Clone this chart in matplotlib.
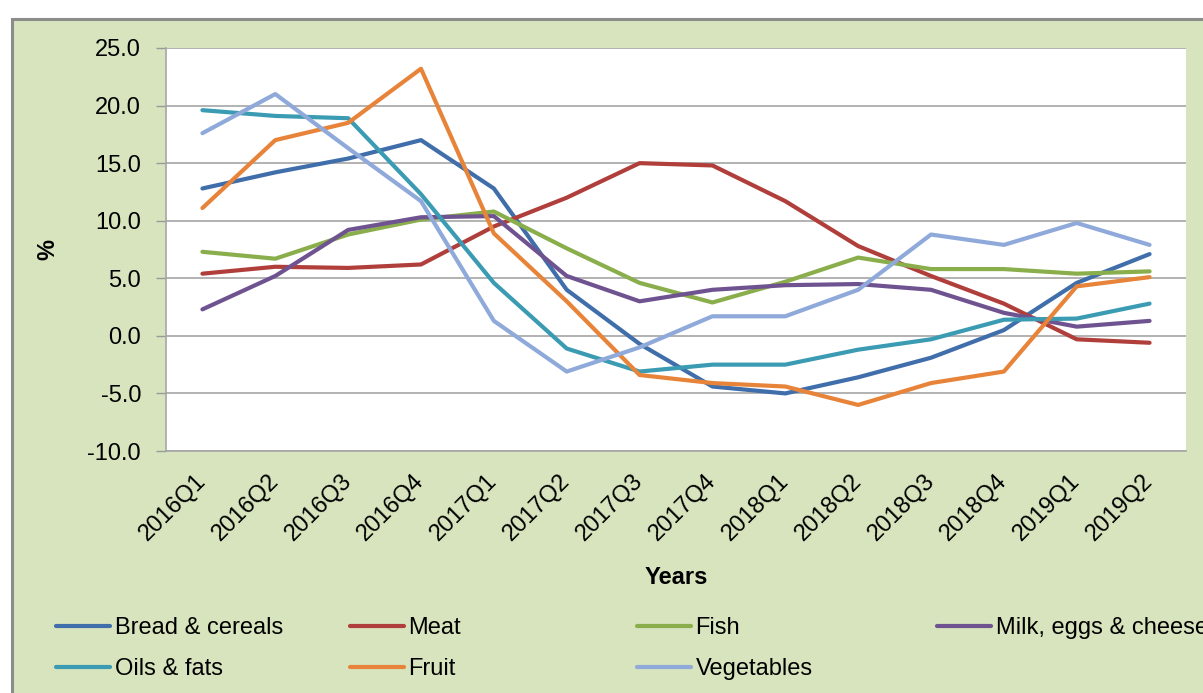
import matplotlib.pyplot as plt
from matplotlib.patches import Rectangle
import numpy as np

# quarterly food price inflation, %
quarters = ["2016Q1", "2016Q2", "2016Q3", "2016Q4",
            "2017Q1", "2017Q2", "2017Q3", "2017Q4",
            "2018Q1", "2018Q2", "2018Q3", "2018Q4",
            "2019Q1", "2019Q2"]

bread = [12.8, 14.2, 15.4, 17.0, 12.8, 4.0, -0.7, -4.4, -5.0, -3.6, -1.9, 0.5, 4.6, 7.1]
meat = [5.4, 6.0, 5.9, 6.2, 9.5, 12.0, 15.0, 14.8, 11.7, 7.8, 5.2, 2.8, -0.3, -0.6]
fish = [7.3, 6.7, 8.8, 10.1, 10.8, 7.6, 4.6, 2.9, 4.7, 6.8, 5.8, 5.8, 5.4, 5.6]
milk = [2.3, 5.2, 9.2, 10.3, 10.4, 5.2, 3.0, 4.0, 4.4, 4.5, 4.0, 2.0, 0.8, 1.3]
oils = [19.6, 19.1, 18.9, 12.3, 4.6, -1.1, -3.1, -2.5, -2.5, -1.2, -0.3, 1.4, 1.5, 2.8]
fruit = [11.1, 17.0, 18.5, 23.2, 8.9, 3.0, -3.4, -4.1, -4.4, -6.0, -4.1, -3.1, 4.3, 5.1]
vegetables = [17.6, 21.0, 16.3, 11.7, 1.3, -3.1, -1.0, 1.7, 1.7, 4.0, 8.8, 7.9, 9.8, 7.9]

series = [
    ("Bread & cereals", bread, "#3F6EAA"),
    ("Meat", meat, "#B03F3C"),
    ("Fish", fish, "#8AAE4B"),
    ("Milk, eggs & cheese", milk, "#6F5391"),
    ("Oils & fats", oils, "#3A9BB3"),
    ("Fruit", fruit, "#E7843A"),
    ("Vegetables", vegetables, "#8FAADA"),
]

W, H = 1203, 693
plt.rcParams['font.family'] = ['Liberation Sans', 'DejaVu Sans']
plt.rcParams['font.size'] = 17

fig = plt.figure(figsize=(W / 100, H / 100), dpi=100)
fig.patch.set_facecolor("white")
# green chart area with grey frame (runs off the right and bottom edges)
fig.patches.append(Rectangle((11.5 / W, -0.1), 1.2, 1.1 - 19 / H,
                             transform=fig.transFigure, facecolor="#D7E4BD",
                             edgecolor="#8C8C8C", linewidth=2.2, zorder=-5))

ax = fig.add_axes([166 / W, 1 - 451 / H, 1020 / W, 403 / H])
ax.set_zorder(1)
ax.set_facecolor("white")

x = np.arange(len(quarters))
handles = []
for name, vals, col in series:
    h, = ax.plot(x, vals, color=col, linewidth=3, label=name,
                 solid_joinstyle="round", solid_capstyle="round")
    handles.append(h)

ax.set_xlim(-0.5, len(quarters) - 0.5)
ax.set_ylim(-10, 25)
ax.set_yticks(np.arange(-10, 26, 5))
ax.set_yticklabels([f"{v:.1f}" for v in np.arange(-10, 26, 5)])
ax.set_xticks(x)
ax.set_xticklabels(quarters, rotation=45, ha="right", va="center",
                   rotation_mode="anchor")
ax.tick_params(axis="x", length=0, pad=19)
ax.tick_params(axis="y", length=7, width=1, color="#999999", pad=11)

ax.grid(axis="y", color="#A6A6A6", linewidth=1.2)
ax.set_axisbelow(True)
for s in ["top", "right"]:
    ax.spines[s].set_visible(False)
for s in ["left", "bottom"]:
    ax.spines[s].set_color("#A6A6A6")
    ax.spines[s].set_linewidth(1.2)

ax.set_xlabel("Years", fontweight="bold", va="center")
ax.xaxis.set_label_coords(0.5, (451 - 578) / 403)
ax.set_ylabel("%", fontweight="bold", va="center")
ax.yaxis.set_label_coords((48 - 166) / 1020, 0.5)

# Excel-style legend: fixed-width columns, filled row by row
col_x = [56, 350, 637, 937]
for j, cx in enumerate(col_x):
    hs = handles[j::4]
    leg = fig.legend(handles=hs, labels=[h.get_label() for h in hs],
                     loc="upper left", bbox_to_anchor=(cx / W, 1 - 617 / H),
                     frameon=False, borderpad=0, borderaxespad=0,
                     handlelength=2.28, handletextpad=0.2, labelspacing=0.8)

fig.savefig("out.png", dpi=100)
